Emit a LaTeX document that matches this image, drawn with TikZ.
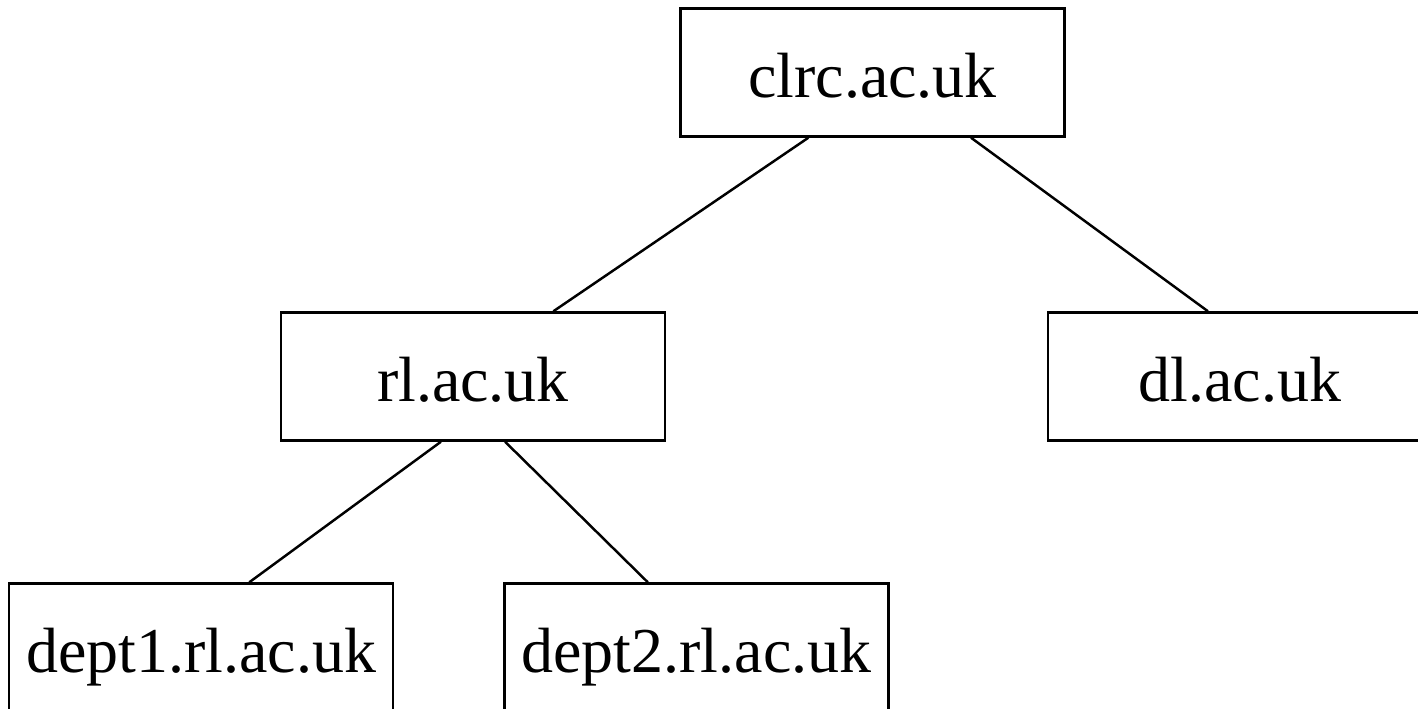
\documentclass[tikz,border=0pt]{standalone}
\usepackage{fontspec}
\setmainfont{Liberation Serif}
\usetikzlibrary{calc}

\begin{document}
\begin{tikzpicture}[node distance=6.08cm,
    every node/.style={font=\fontsize{36.4}{44}\selectfont},
    hostbox/.style={rectangle, draw, line width=1.4pt, minimum width=7.68cm, minimum height=2.56cm, text height=28.4pt, text depth=0pt, inner sep=0pt},
    link/.style={line width=1.4pt}]

\useasboundingbox (0,0) rectangle (28.36,-14.18);

% Root
\node[hostbox] (clrc) at (17.45,-1.45) {clrc.ac.uk};

% Second level
\node[hostbox, below of=clrc, xshift=-7.99cm] (rl) {rl.ac.uk};
\node[hostbox, below of=clrc, xshift=7.35cm] (dl) {dl.ac.uk};

% Departments
\node[hostbox, below of=rl, node distance=5.42cm, xshift=-5.44cm] (dept1) {dept1.rl.ac.uk};
\node[hostbox, below of=rl, node distance=5.42cm, xshift=4.47cm] (dept2) {dept2.rl.ac.uk};

% Links
\draw[link] ($(clrc.south west)!0.334!(clrc.south east)$) -- ($(rl.north west)!0.708!(rl.north east)$);
\draw[link] ($(clrc.south west)!0.755!(clrc.south east)$) -- ($(dl.north west)!0.417!(dl.north east)$);
\draw[link] ($(rl.south west)!0.417!(rl.south east)$) -- ($(dept1.north west)!0.625!(dept1.north east)$);
\draw[link] ($(rl.south west)!0.583!(rl.south east)$) -- ($(dept2.north west)!0.374!(dept2.north east)$);

\end{tikzpicture}
\end{document}
